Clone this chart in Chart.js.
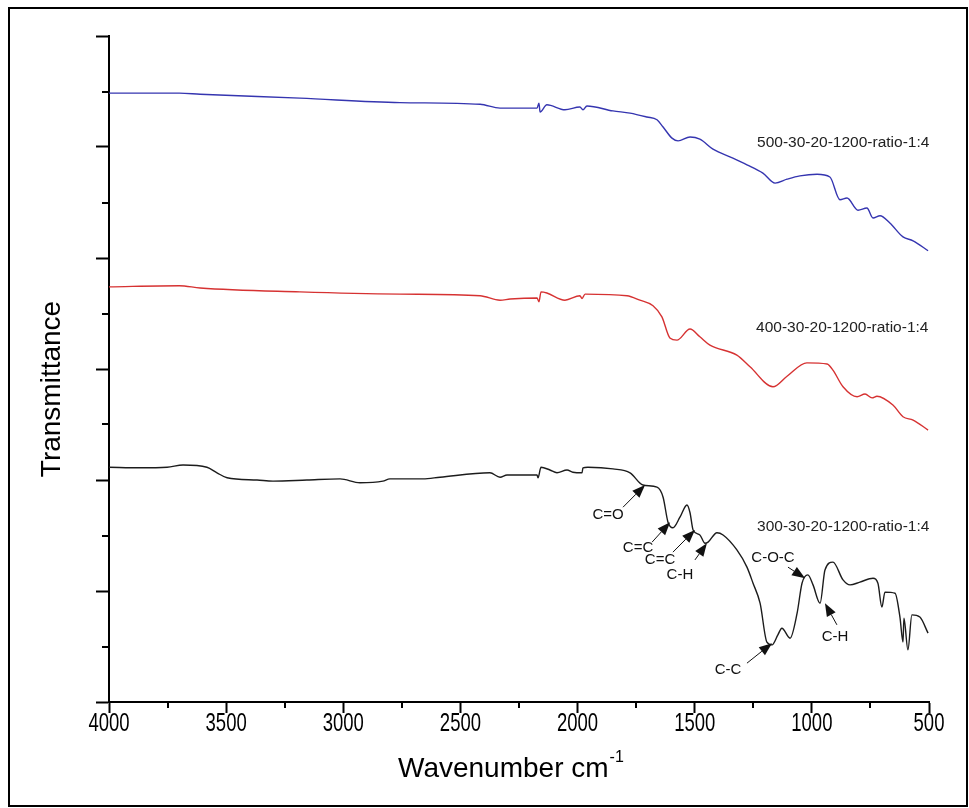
<!DOCTYPE html>
<html>
<head>
<meta charset="utf-8">
<script src="https://cdn.jsdelivr.net/npm/chart.js@4.4.1/dist/chart.umd.min.js"></script>
<style>
  html, body { margin: 0; padding: 0; background: #fff; }
  #wrap { position: relative; width: 969px; height: 808px; overflow: hidden; }
  #frame { position: absolute; left: 8px; top: 7px; right: 1px; bottom: 1px; border: 2px solid #000; pointer-events: none; }
</style>
</head>
<body>
<div id="wrap">
  <canvas id="ftirChart" width="969" height="808"></canvas>
  <div id="frame"></div>
</div>
<script>
// FTIR spectra (wavenumber in cm-1, transmittance offset units)
const wn500 = [4000, 3700, 3611, 3185, 2758, 2416, 2331, 2276, 2173, 2165, 2160, 2131, 2054, 1990, 1977, 1960, 1849, 1776,
  1704, 1661, 1635, 1597, 1571, 1520, 1478, 1422, 1337, 1277, 1209, 1157, 1106, 1051, 978, 923, 880, 850, 803, 765, 739,
  709, 667, 611, 568, 504];
const t500 = [10.97, 10.97, 10.95, 10.88, 10.80, 10.77, 10.70, 10.70, 10.70, 10.79, 10.63, 10.76, 10.67, 10.72, 10.67, 10.74, 10.65, 10.61,
  10.54, 10.49, 10.36, 10.16, 10.11, 10.18, 10.14, 9.96, 9.80, 9.68, 9.53, 9.35, 9.42, 9.48, 9.51, 9.46, 9.05, 9.08, 8.86, 8.90, 8.72,
  8.76, 8.63, 8.38, 8.31, 8.13];

const wn400 = [4000, 3700, 3611, 3185, 2758, 2416, 2331, 2288, 2173, 2165, 2156, 2131, 2054, 1990, 1981, 1968, 1789, 1734,
  1678, 1640, 1606, 1576, 1520, 1478, 1435, 1320, 1264, 1166, 1106, 1021, 935, 910, 867, 807, 773, 743,
  722, 654, 611, 568, 504];
const t400 = [7.48, 7.50, 7.46, 7.39, 7.35, 7.32, 7.24, 7.26, 7.28, 7.21, 7.39, 7.37, 7.24, 7.32, 7.27, 7.35, 7.32, 7.24,
  7.14, 6.94, 6.56, 6.52, 6.72, 6.58, 6.43, 6.25, 6.04, 5.68, 5.87, 6.11, 6.09, 5.98, 5.68, 5.50, 5.55, 5.48,
  5.51, 5.35, 5.14, 5.08, 4.90];

const wn300 = [4000, 3868, 3752, 3684, 3582, 3539, 3496, 3368, 3300, 3155, 3014, 2929, 2831, 2801, 2660, 2587, 2374, 2331,
  2301, 2173, 2169, 2156, 2118, 2088, 2045, 2020, 1981, 1977, 1956, 1849, 1776, 1721, 1661, 1635, 1614, 1593,
  1563, 1533, 1520, 1507, 1478, 1456, 1443, 1405, 1379, 1320, 1277, 1251, 1221, 1192, 1170, 1145, 1128, 1093,
  1063, 1042, 1017, 995, 965, 944, 910, 867, 837, 795, 739, 718, 701, 688, 645, 624, 611, 607,
  590, 573, 539, 504];
const t300 = [4.23, 4.22, 4.23, 4.27, 4.23, 4.13, 4.04, 4.00, 3.98, 4.00, 4.02, 3.95, 3.98, 4.02, 4.02, 4.05, 4.13, 4.05,
  4.09, 4.09, 4.04, 4.23, 4.18, 4.13, 4.18, 4.14, 4.13, 4.22, 4.23, 4.20, 4.13, 3.91, 3.87, 3.69, 3.24, 3.14,
  3.33, 3.55, 3.41, 3.10, 3.01, 2.86, 2.88, 3.05, 3.01, 2.74, 2.43, 2.14, 1.78, 1.08, 1.03, 1.21, 1.33, 1.15,
  1.60, 2.14, 2.29, 2.11, 1.78, 2.38, 2.52, 2.20, 2.11, 2.16, 2.23, 2.14, 1.71, 1.98, 1.96, 1.53, 1.08, 1.51,
  0.94, 1.57, 1.53, 1.24];

const seriesNames = ['500-30-20-1200-ratio-1:4', '400-30-20-1200-ratio-1:4', '300-30-20-1200-ratio-1:4'];
const xTickLabels = [4000, 3500, 3000, 2500, 2000, 1500, 1000, 500];
const xMinor = [3750, 3250, 2750, 2250, 1750, 1250, 750];
const yMinor = [1, 3, 5, 7, 9, 11];

// where each series name sits (wavenumber, y)
const nameAt = [[1234, 10.07], [1238, 6.74], [1234, 3.15]];

// band assignments on the black curve: label spot, arrow tail, arrow tip (wavenumber, y)
const bands = [
  { text: 'C=O',   at: [1870, 3.37], from: [1806, 3.51], to: [1712, 3.91] },
  { text: 'C=C',   at: [1742, 2.77], from: [1682, 2.88], to: [1605, 3.24] },
  { text: 'C=C',   at: [1648, 2.56], from: [1593, 2.70], to: [1499, 3.10] },
  { text: 'C-H',   at: [1563, 2.29], from: [1499, 2.56], to: [1448, 2.86] },
  { text: 'C-O-C', at: [1166, 2.59], from: [1102, 2.43], to: [1029, 2.23] },
  { text: 'C-H',   at: [901, 1.17],  from: [893, 1.39],  to: [944, 1.78] },
  { text: 'C-C',   at: [1358, 0.58], from: [1277, 0.70], to: [1170, 1.06] }
];

const FONT = "'Liberation Sans', Arial, sans-serif";

function toPoints(xs, ys) {
  return xs.map((w, i) => ({ x: w, y: ys[i] }));
}

const overlay = {
  id: 'overlay',
  afterDraw(chart) {
    const { ctx, scales: { x, y } } = chart;
    ctx.save();
    ctx.strokeStyle = '#000';
    ctx.lineWidth = 2;
    ctx.beginPath();
    xMinor.forEach(v => {
      const px = Math.round(x.getPixelForValue(v));
      ctx.moveTo(px, y.bottom);
      ctx.lineTo(px, y.bottom + 6);
    });
    yMinor.forEach(v => {
      const py = Math.round(y.getPixelForValue(v));
      ctx.moveTo(x.left - 7, py);
      ctx.lineTo(x.left, py);
    });
    ctx.stroke();

    // x tick labels, narrow face like the original
    ctx.fillStyle = '#000';
    ctx.font = '25px ' + FONT;
    ctx.textAlign = 'center';
    ctx.textBaseline = 'alphabetic';
    xTickLabels.forEach(v => {
      ctx.save();
      ctx.translate(x.getPixelForValue(v), 731);
      ctx.scale(0.74, 1);
      ctx.fillText(String(v), 0, 0);
      ctx.restore();
    });

    // series names
    ctx.fillStyle = '#222';
    ctx.font = '15.5px ' + FONT;
    ctx.textAlign = 'left';
    ctx.textBaseline = 'middle';
    seriesNames.forEach((n, i) => {
      ctx.fillText(n, x.getPixelForValue(nameAt[i][0]), y.getPixelForValue(nameAt[i][1]));
    });

    // band arrows
    ctx.font = '15px ' + FONT;
    ctx.textAlign = 'center';
    ctx.lineWidth = 1;
    ctx.strokeStyle = '#111';
    ctx.fillStyle = '#111';
    bands.forEach(b => {
      const x1 = x.getPixelForValue(b.from[0]), y1 = y.getPixelForValue(b.from[1]);
      const x2 = x.getPixelForValue(b.to[0]), y2 = y.getPixelForValue(b.to[1]);
      const ang = Math.atan2(y2 - y1, x2 - x1);
      const hl = 13, hw = 5;
      const bx = x2 - hl * Math.cos(ang), by = y2 - hl * Math.sin(ang);
      ctx.beginPath();
      ctx.moveTo(x1, y1);
      ctx.lineTo(bx, by);
      ctx.stroke();
      ctx.beginPath();
      ctx.moveTo(x2, y2);
      ctx.lineTo(bx + hw * Math.sin(ang), by - hw * Math.cos(ang));
      ctx.lineTo(bx - hw * Math.sin(ang), by + hw * Math.cos(ang));
      ctx.closePath();
      ctx.fill();
      ctx.fillText(b.text, x.getPixelForValue(b.at[0]), y.getPixelForValue(b.at[1]));
    });

    // axis titles
    ctx.fillStyle = '#000';
    ctx.font = '28px ' + FONT;
    ctx.textAlign = 'left';
    ctx.textBaseline = 'alphabetic';
    const xt = 'Wavenumber cm';
    ctx.fillText(xt, 398, 777);
    const w = ctx.measureText(xt).width;
    ctx.font = '16px ' + FONT;
    ctx.fillText('-1', 398 + w + 1, 762);

    ctx.font = '28px ' + FONT;
    ctx.translate(60, 389);
    ctx.rotate(-Math.PI / 2);
    ctx.textAlign = 'center';
    ctx.fillText('Transmittance', 0, 0);
    ctx.restore();
  }
};

const ctx = document.getElementById('ftirChart');

new Chart(ctx, {
  type: 'line',
  data: {
    datasets: [
      { label: seriesNames[0], data: toPoints(wn500, t500), borderColor: '#3535b0', borderWidth: 1.4 },
      { label: seriesNames[1], data: toPoints(wn400, t400), borderColor: '#d63232', borderWidth: 1.4 },
      { label: seriesNames[2], data: toPoints(wn300, t300), borderColor: '#1c1c1c', borderWidth: 1.4 }
    ]
  },
  options: {
    responsive: false,
    animation: false,
    events: [],
    layout: { padding: { left: 0, top: 36, right: 40, bottom: 0 } },
    elements: {
      point: { radius: 0 },
      line: { cubicInterpolationMode: 'monotone', fill: false }
    },
    plugins: {
      legend: { display: false },
      tooltip: { enabled: false }
    },
    scales: {
      x: {
        type: 'linear',
        reverse: true,
        min: 500,
        max: 4000,
        afterFit: s => { s.height = 106; },
        border: { display: true, color: '#000', width: 2 },
        grid: {
          drawOnChartArea: false,
          drawTicks: true,
          tickLength: 11,
          tickWidth: 2,
          tickColor: c => (c.tick && c.tick.value % 500 === 0 ? '#000' : 'rgba(0,0,0,0)')
        },
        ticks: {
          stepSize: 250,
          autoSkip: false,
          maxRotation: 0,
          callback: () => ''
        }
      },
      y: {
        min: 0,
        max: 12,
        afterFit: s => { s.width = 109; },
        border: { display: true, color: '#000', width: 2 },
        grid: {
          drawOnChartArea: false,
          drawTicks: true,
          tickLength: 13,
          tickWidth: 2,
          tickColor: c => (c.tick && c.tick.value % 2 === 0 ? '#000' : 'rgba(0,0,0,0)')
        },
        ticks: {
          stepSize: 1,
          autoSkip: false,
          callback: () => ''
        }
      }
    }
  },
  plugins: [overlay]
});
</script>
</body>
</html>
